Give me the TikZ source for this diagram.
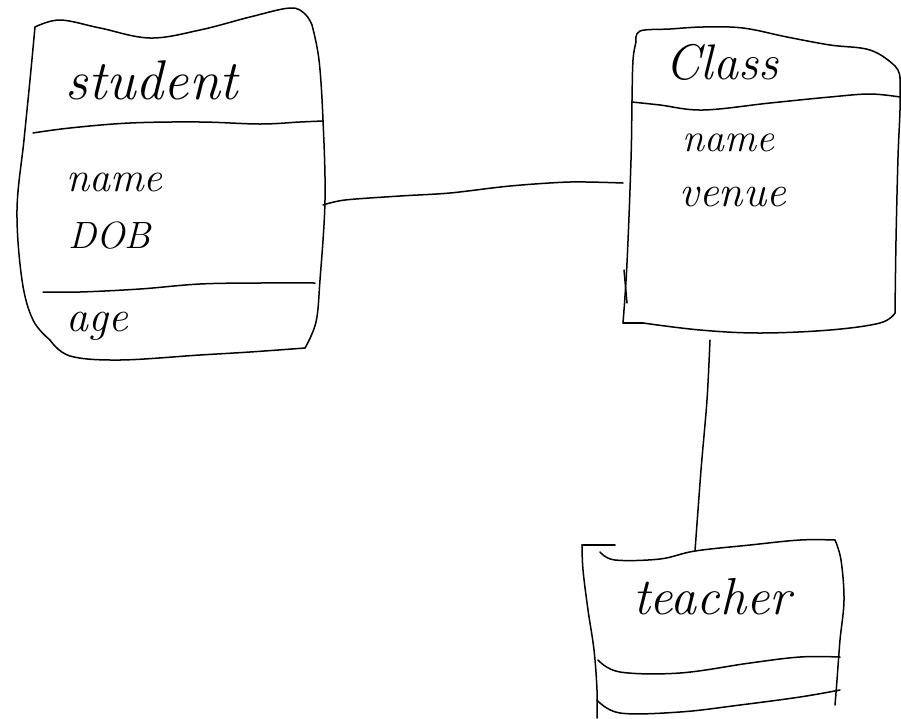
\documentclass[tikz,border=0pt]{standalone}
\tikzset{
  ink/.style={line width=1.5pt, line join=round, line cap=round, black},
  hand/.style={font=\itshape, inner sep=0pt, anchor=center},
  handsm/.style={font=\itshape, inner sep=0pt, anchor=west},
}
\newcommand{\fsz}[1]{\fontsize{#1}{#1}\selectfont}
\begin{document}
\begin{tikzpicture}[x=1pt,y=-1pt]
\useasboundingbox (0,0) rectangle (901,718);

% ---------- student box ----------
\draw[ink] plot[smooth, tension=0.6] coordinates {(35,27) (60,20) (100,28) (150,38) (200,30) (250,17) (290,8) (305,14) (312,25)};
\draw[ink] plot[smooth, tension=0.6] coordinates {(312,25) (319,60) (323,120) (325,200) (320,280) (316,322) (305,348)};
\draw[ink] plot[smooth, tension=0.6] coordinates {(305,348) (250,352) (200,355) (120,360) (70,356) (50,340)};
\draw[ink] plot[smooth, tension=0.6] coordinates {(35,27) (30,80) (24,140) (17,210) (22,280) (33,320) (50,340)};
\draw[ink] plot[smooth, tension=0.6] coordinates {(33,133) (70,128) (130,123) (200,122) (260,124) (300,122) (323,121)};
\draw[ink] plot[smooth, tension=0.6] coordinates {(43,292) (80,292) (140,289) (200,284) (260,283) (315,283)};
\node[hand, font=\fsz{56}\itshape] (student) at (152,80) {student};
\node[handsm, font=\fsz{42}\itshape] (sname) at (66,182) {name};
\node[handsm, font=\fsz{38}\itshape] (dob) at (68,236) {DOB};
\node[handsm, font=\fsz{44}\itshape] (age) at (66,326) {age};
\coordinate (stuR) at (323,205);

% ---------- class box ----------
\draw[ink] plot[smooth, tension=0.6] coordinates {(636,42) (640,31) (670,29) (703,27) (743,28) (787,37) (830,45) (870,50) (895,66) (900,78)};
\draw[ink] plot[smooth, tension=0.6] coordinates {(900,78) (900,110) (898,157) (896,240) (895,313)};
\draw[ink] plot[smooth, tension=0.6] coordinates {(636,42) (633,60) (632,100) (631,160) (627,263) (623,323)};
\draw[ink] (623,323) -- (643,323);
\draw[ink] plot[smooth, tension=0.6] coordinates {(643,323) (700,330) (760,333) (830,330) (880,323) (895,313)};
\draw[ink] plot[smooth, tension=0.6] coordinates {(632,102) (660,105) (703,110) (770,103) (830,97) (870,94) (900,97)};
\draw[ink] (624,270) -- (627,303);
\node[hand, font=\fsz{50}\itshape] (class) at (722,62) {Class};
\node[handsm, font=\fsz{40}\itshape] (cname) at (682,143) {name};
\node[handsm, font=\fsz{44}\itshape] (venue) at (679,197) {venue};
\coordinate (clsL) at (623,183);
\coordinate (clsB) at (710,340);

% ---------- teacher box ----------
\draw[ink] (582,545) -- (615,545);
\draw[ink] plot[smooth, tension=0.6] coordinates {(600,552) (615,560) (660,559) (695,551) (750,545) (800,540) (835,540)};
\draw[ink] plot[smooth, tension=0.6] coordinates {(835,540) (841,560) (844,600) (840,640) (837,680) (835,705)};
\draw[ink] plot[smooth, tension=0.6] coordinates {(582,545) (583,570) (588,610) (594,650) (597,690) (597,718)};
\draw[ink] plot[smooth, tension=0.6] coordinates {(598,660) (620,672) (680,673) (750,663) (800,657) (840,657)};
\draw[ink] plot[smooth, tension=0.6] coordinates {(597,700) (620,713) (680,712) (740,705) (800,697) (840,690)};
\node[hand, font=\fsz{52}\itshape] (teacher) at (712,597) {teacher};
\coordinate (teaT) at (695,551);

% ---------- connectors ----------
\draw[ink] plot[smooth, tension=0.5] coordinates {(stuR) (345,200) (400,196) (450,193) (510,186) (570,182) (clsL)};
\draw[ink] plot[smooth, tension=0.5] coordinates {(clsB) (707,400) (701,470) (teaT)};
\end{tikzpicture}
\end{document}
